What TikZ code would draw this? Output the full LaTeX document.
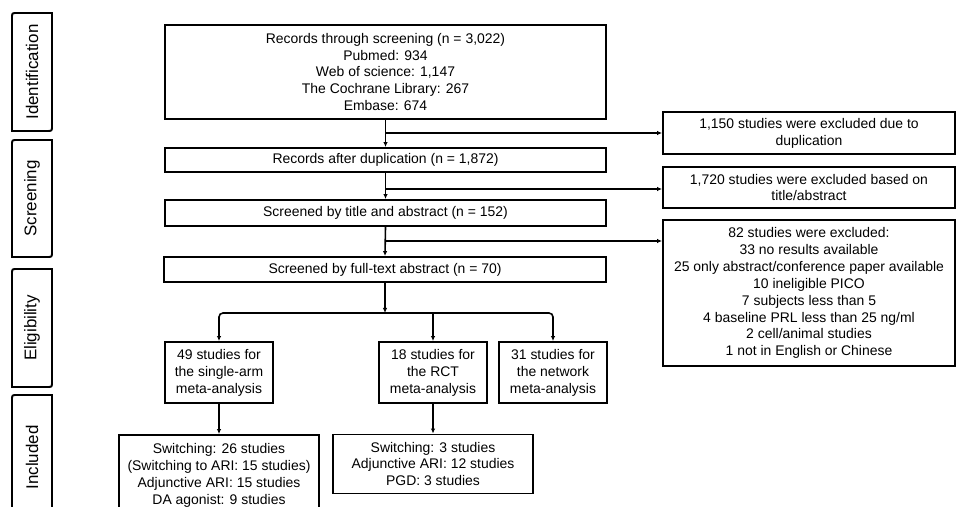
\documentclass[tikz,border=0pt]{standalone}
\usepackage{fontspec}
\setmainfont{Liberation Sans}
\usetikzlibrary{arrows.meta}
\newcommand\stagebox[4]{%
  \draw[stageline] (12,#3) -- (12,#2+5) .. controls (12,#2) .. (17,#2) -- (52,#2)
    -- (52,#3-5) .. controls (52,#3) .. (47,#3) -- cycle;
  \node[stagetext] (#1) at (32,{(#2+#3)/2}) {#4};}
\begin{document}
\begin{tikzpicture}[x=1bp,y=-1bp,
  box/.style={draw, line width=1.9bp, inner sep=0pt, align=center,
    font=\fontsize{14}{17}\selectfont},
  stageline/.style={line width=1.9bp},
  stagetext/.style={rotate=90, font=\fontsize{17}{18}\selectfont, inner sep=0pt},
  arr/.style={line width=1.6bp, -{Latex[length=5bp,width=4.5bp]}}]
\useasboundingbox (0,0) rectangle (956,507);
% stage labels
\stagebox{sid}{13}{131}{Identification}
\stagebox{sscr}{140}{257}{Screening}
\stagebox{selig}{269}{387}{Eligibility}
\stagebox{sinc}{395}{520}{Included}
% main column
\node[box, minimum width=441bp, minimum height=94bp] (top) at (385.5,72)
  {Records through screening (n = 3,022)\\Pubmed: 934\\Web of science: 1,147\\The Cochrane Library: 267\\Embase: 674};
\node[box, minimum width=441bp, minimum height=24bp] (dup) at (385.5,160)
  {Records after duplication (n = 1,872)};
\node[box, minimum width=441bp, minimum height=26bp] (title) at (385.5,213)
  {Screened by title and abstract (n = 152)};
\node[box, minimum width=442bp, minimum height=25bp] (full) at (385,269.5)
  {Screened by full-text abstract (n = 70)};
% exclusion boxes
\node[box, minimum width=292bp, minimum height=42bp] (ex1) at (809,133)
  {1,150 studies were excluded due to\\duplication};
\node[box, minimum width=292bp, minimum height=41bp] (ex2) at (809,187.5)
  {1,720 studies were excluded based on\\title/abstract};
\node[box, minimum width=292bp, minimum height=146bp] (ex3) at (809,293)
  {82 studies were excluded:\\33 no results available\\25 only abstract/conference paper available\\10 ineligible PICO\\7 subjects less than 5\\4 baseline PRL less than 25 ng/ml\\2 cell/animal studies\\1 not in English or Chinese};
% eligibility boxes
\node[box, minimum width=108bp, minimum height=61bp] (sa) at (219,372.5)
  {49 studies for\\the single-arm\\meta-analysis};
\node[box, minimum width=108bp, minimum height=61bp] (rct) at (433,372.5)
  {18 studies for\\the RCT\\meta-analysis};
\node[box, minimum width=108bp, minimum height=61bp] (net) at (553,372.5)
  {31 studies for\\the network\\meta-analysis};
% included boxes
\node[box, minimum width=200bp, minimum height=80bp] (sab) at (219,475)
  {Switching: 26 studies\\(Switching to ARI: 15 studies)\\Adjunctive ARI: 15 studies\\DA agonist: 9 studies};
\node[box, minimum width=200bp, minimum height=59bp] (rctb) at (433,464)
  {Switching: 3 studies\\Adjunctive ARI: 12 studies\\PGD: 3 studies};
% connectors
\coordinate (j1) at (top.south |- ex1.west);
\coordinate (j2) at (dup.south |- 0,189);
\coordinate (j3) at (title.south |- 0,241);
\draw[arr] (top.south) -- (dup.north);
\draw[arr] (dup.south) -- (title.north);
\draw[arr] (title.south) -- (full.north);
\draw[arr] (j1) -- (ex1.west);
\draw[arr] (j2) -- (j2 -| ex2.west);
\draw[arr] (j3) -- (j3 -| ex3.west);
\coordinate (hub) at (full.south |- 0,313);
\draw[arr] (full.south) -- (hub);
\draw[arr, rounded corners=4bp] (hub) -| (sa.north);
\draw[arr, rounded corners=4bp] (hub) -| (net.north);
\draw[arr] (hub -| rct.north) -- (rct.north);
\draw[arr] (sa.south) -- (sab.north);
\draw[arr] (rct.south) -- (rctb.north);
\end{tikzpicture}
\end{document}
